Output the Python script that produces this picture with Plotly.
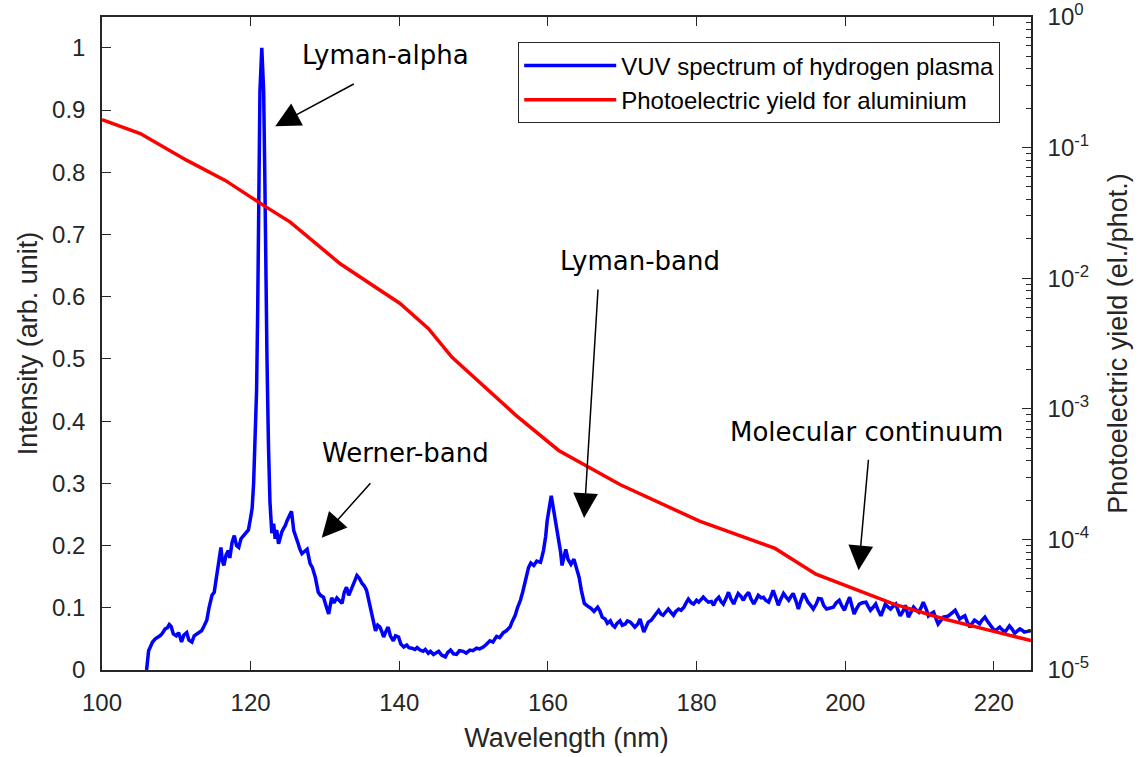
import plotly.graph_objects as go

# ---------------- data ----------------
wl_vuv = [106.0, 106.1, 106.27, 106.5, 106.8, 107.17, 107.5, 107.8, 108.06, 108.5, 108.8, 109.05, 109.3, 109.6,
          110.0, 110.3, 110.5, 110.7, 111.0, 111.4, 111.7, 112.1, 112.4, 112.8, 113.1, 113.4, 113.7, 114.1, 114.4,
          114.8, 115.1, 115.5, 115.8, 116.0, 116.2, 116.4, 116.7, 117.0, 117.2, 117.5, 117.8, 118.1, 118.4, 118.7,
          119.05, 119.4, 119.7, 120.0, 120.2, 120.4, 120.6, 120.8, 120.95, 121.1, 121.25, 121.5, 121.75, 121.9,
          122.05, 122.2, 122.4, 122.6, 122.85, 123.1, 123.3, 123.5, 123.76, 124.0, 124.2, 124.4, 124.65, 124.9,
          125.3, 125.5, 125.8, 126.1, 126.4, 126.6, 126.9, 127.2, 127.6, 128.0, 128.3, 128.7, 129.1, 129.4, 129.8,
          130.1, 130.5, 130.9, 131.2, 131.6, 132.0, 132.3, 132.6, 132.9, 133.2, 133.6, 133.9, 134.3, 134.6, 135.0,
          135.3, 135.6, 136.0, 136.3, 136.6, 136.8, 137.1, 137.4, 137.7, 137.9, 138.2, 138.5, 138.8, 139.2, 139.5,
          139.9, 140.2, 140.6, 141.0, 141.3, 141.7, 142.1, 142.4, 142.8, 143.2, 143.5, 143.9, 144.2, 144.6, 145.0,
          145.3, 145.7, 146.2, 146.5, 146.9, 147.3, 147.7, 148.1, 148.6, 149.0, 149.5, 149.9, 150.4, 150.8, 151.3,
          151.7, 152.2, 152.6, 153.1, 153.5, 154.0, 154.4, 154.9, 155.2, 155.6, 155.9, 156.3, 156.6, 156.9, 157.2,
          157.4, 157.7, 158.1, 158.5, 159.0, 159.2, 159.4, 159.7, 159.9, 160.2, 160.45, 160.7, 161.0, 161.25, 161.5,
          161.7, 161.9, 162.1, 162.4, 162.7, 163.1, 163.5, 163.8, 164.2, 164.5, 164.9, 165.3, 165.8, 166.2, 166.7,
          167.0, 167.3, 167.7, 168.0, 168.4, 168.7, 169.0, 169.3, 169.7, 170.0, 170.4, 170.7, 171.1, 171.4, 171.7,
          172.1, 172.4, 172.9, 173.2, 173.5, 173.9, 174.2, 174.5, 174.9, 175.2, 175.5, 175.9, 176.2, 176.6, 176.9,
          177.2, 177.6, 177.9, 178.3, 178.6, 178.9, 179.3, 179.6, 180.0, 180.3, 180.6, 180.9, 181.3, 181.6, 182.0,
          182.3, 182.6, 183.0, 183.3, 183.6, 184.0, 184.3, 184.6, 185.0, 185.3, 185.6, 186.0, 186.3, 186.6, 187.0,
          187.3, 187.7, 188.0, 188.3, 188.7, 189.0, 189.3, 189.7, 190.0, 190.3, 190.7, 191.0, 191.3, 191.7, 192.0,
          192.4, 192.7, 193.0, 193.4, 193.7, 194.0, 194.4, 194.7, 195.0, 195.4, 195.7, 196.1, 196.4, 196.8, 197.1,
          197.5, 197.9, 198.4, 198.8, 199.2, 199.5, 199.9, 200.2, 200.6, 200.9, 201.2, 201.5, 201.9, 202.3, 202.8,
          203.1, 203.4, 203.7, 204.1, 204.4, 204.8, 205.1, 205.4, 205.8, 206.1, 206.4, 206.8, 207.1, 207.4, 207.8,
          208.1, 208.5, 208.8, 209.2, 209.5, 209.9, 210.2, 210.5, 210.9, 211.2, 211.5, 211.9, 212.2, 212.5, 212.9,
          213.2, 213.6, 213.9, 214.3, 214.8, 215.1, 215.4, 215.8, 216.1, 216.4, 216.8, 217.1, 217.4, 217.8, 218.1,
          218.4, 218.8, 219.1, 219.4, 219.8, 220.1, 220.5, 220.8, 221.1, 221.5, 221.8, 222.1, 222.5, 222.8, 223.1,
          223.5, 223.8, 224.1, 224.5, 224.8, 225.0]

intensity = [0.0, 0.02, 0.031, 0.037, 0.045, 0.050, 0.052, 0.055, 0.058, 0.066, 0.068, 0.073, 0.070, 0.058,
             0.055, 0.060, 0.053, 0.045, 0.056, 0.060, 0.048, 0.045, 0.055, 0.058, 0.061, 0.063, 0.070, 0.080, 0.100,
             0.120, 0.125, 0.158, 0.180, 0.197, 0.175, 0.168, 0.185, 0.192, 0.180, 0.205, 0.216, 0.200, 0.197, 0.211,
             0.216, 0.222, 0.225, 0.245, 0.26, 0.30, 0.36, 0.45, 0.58, 0.78, 0.93, 1.0, 0.93, 0.80,
             0.62, 0.50, 0.36, 0.27, 0.22, 0.235, 0.211, 0.225, 0.203, 0.215, 0.222, 0.227, 0.232, 0.24,
             0.250, 0.255, 0.224, 0.215, 0.203, 0.195, 0.187, 0.190, 0.194, 0.171, 0.165, 0.149, 0.125, 0.120, 0.117,
             0.105, 0.090, 0.116, 0.108, 0.116, 0.110, 0.107, 0.125, 0.133, 0.120, 0.130, 0.140, 0.152, 0.148, 0.139,
             0.135, 0.128, 0.105, 0.090, 0.075, 0.063, 0.072, 0.069, 0.060, 0.053, 0.062, 0.069, 0.055, 0.047, 0.055,
             0.053, 0.042, 0.037, 0.040, 0.036, 0.035, 0.033, 0.036, 0.032, 0.030, 0.033, 0.027, 0.030, 0.025, 0.027,
             0.030, 0.024, 0.021, 0.028, 0.032, 0.026, 0.025, 0.031, 0.030, 0.027, 0.032, 0.031, 0.035, 0.034, 0.037,
             0.041, 0.047, 0.045, 0.054, 0.052, 0.060, 0.063, 0.069, 0.078, 0.088, 0.100, 0.112, 0.125, 0.139, 0.155,
             0.165, 0.172, 0.168, 0.175, 0.173, 0.182, 0.192, 0.215, 0.240, 0.262, 0.28, 0.262, 0.240, 0.222, 0.208,
             0.190, 0.168, 0.180, 0.194, 0.178, 0.170, 0.178, 0.165, 0.149, 0.128, 0.107, 0.103, 0.099, 0.094, 0.101,
             0.095, 0.085, 0.082, 0.075, 0.079, 0.072, 0.069, 0.075, 0.079, 0.072, 0.074, 0.079, 0.077, 0.072, 0.069,
             0.074, 0.082, 0.061, 0.070, 0.077, 0.080, 0.085, 0.088, 0.096, 0.090, 0.088, 0.094, 0.098, 0.092, 0.088,
             0.094, 0.098, 0.096, 0.101, 0.108, 0.114, 0.108, 0.106, 0.112, 0.109, 0.113, 0.117, 0.112, 0.109, 0.110,
             0.104, 0.112, 0.117, 0.110, 0.106, 0.116, 0.125, 0.115, 0.106, 0.115, 0.123, 0.118, 0.112, 0.119, 0.125,
             0.115, 0.106, 0.113, 0.120, 0.116, 0.117, 0.112, 0.109, 0.118, 0.128, 0.115, 0.104, 0.113, 0.123, 0.118,
             0.112, 0.118, 0.123, 0.110, 0.098, 0.110, 0.123, 0.116, 0.109, 0.103, 0.098, 0.106, 0.115, 0.114, 0.104,
             0.098, 0.100, 0.101, 0.108, 0.112, 0.104, 0.096, 0.106, 0.117, 0.103, 0.090, 0.098, 0.106, 0.108, 0.109,
             0.102, 0.096, 0.100, 0.106, 0.097, 0.087, 0.096, 0.106, 0.101, 0.098, 0.102, 0.106, 0.096, 0.087, 0.095,
             0.104, 0.085, 0.093, 0.101, 0.097, 0.093, 0.100, 0.109, 0.098, 0.087, 0.090, 0.093, 0.083, 0.074, 0.080,
             0.085, 0.086, 0.087, 0.091, 0.096, 0.089, 0.082, 0.085, 0.087, 0.078, 0.069, 0.075, 0.080, 0.077, 0.074,
             0.080, 0.085, 0.079, 0.074, 0.068, 0.063, 0.066, 0.069, 0.065, 0.061, 0.066, 0.071, 0.065, 0.059, 0.062,
             0.066, 0.064, 0.061, 0.062, 0.063, 0.062]

wl_yield = [100.0, 105.15, 111.43, 116.58, 121.73, 125.33, 132.05, 140.1, 143.9, 147.1, 155.7, 161.45,
            169.75, 180.4, 190.56, 196.07, 206.47, 213.2, 220.4, 225.0]
pe_yield = [0.1637, 0.128, 0.0798, 0.0561, 0.0361, 0.0269, 0.0129, 0.00641, 0.00413, 0.00248, 0.000891,
            0.000480, 0.000262, 0.000138, 8.53e-5, 5.41e-5, 3.21e-5, 2.47e-5, 1.95e-5, 1.68e-5]

left_ticks = [0, 0.1, 0.2, 0.3, 0.4, 0.5, 0.6, 0.7, 0.8, 0.9, 1]
left_labels = ["0", "0.1", "0.2", "0.3", "0.4", "0.5", "0.6", "0.7", "0.8", "0.9", "1"]
x_ticks = [100, 120, 140, 160, 180, 200, 220]
right_ticks = [1e-5, 1e-4, 1e-3, 1e-2, 1e-1, 1e0]
right_labels = ["10<sup>-5</sup>", "10<sup>-4</sup>", "10<sup>-3</sup>", "10<sup>-2</sup>",
                "10<sup>-1</sup>", "10<sup>0</sup>"]
right_minor = [k * 10.0 ** e for e in range(-5, 0) for k in range(2, 10)]

# annotations: (text, text_x, text_y, tip_x, tip_y, ax, ay)
labels = [
    ("Lyman-alpha", 138.2, 0.988, 123.31, 0.874, 80, -43),
    ("Werner-band", 140.8, 0.348, 129.57, 0.2126, 50, -56),
    ("Lyman-band", 172.4, 0.657, 164.87, 0.2444, 14, -230),
    ("Molecular continuum", 202.9, 0.382, 201.8, 0.1604, 10, -112),
]

AX = "#262626"
FONT = "Liberation Sans, Arial, Helvetica, sans-serif"

fig = go.Figure()
fig.add_trace(go.Scatter(x=wl_vuv, y=intensity, mode="lines", name="VUV spectrum of hydrogen plasma",
                         line=dict(color="#0000ff", width=3.5), yaxis="y"))
fig.add_trace(go.Scatter(x=wl_yield, y=pe_yield, mode="lines", name="Photoelectric yield for aluminium",
                         line=dict(color="#ff0000", width=3.5), yaxis="y2"))

ann = []
for text, tx, ty, px, py, ax, ay in labels:
    ann.append(dict(x=tx, y=ty, xref="x", yref="y", text=text, showarrow=False,
                    font=dict(family="DejaVu Sans", size=26, color="black"),
                    xanchor="center", yanchor="middle"))
    ann.append(dict(x=px, y=py, xref="x", yref="y", text="", showarrow=True, ax=ax, ay=ay,
                    arrowhead=2, arrowsize=3.3, arrowwidth=1.5, arrowcolor="black", standoff=0))

fig.update_layout(
    width=1140, height=757,
    margin=dict(l=102, r=109, t=17, b=87, pad=0, autoexpand=False),
    paper_bgcolor="white", plot_bgcolor="white",
    font=dict(family=FONT, size=24, color=AX),
    showlegend=True,
    legend=dict(x=0.448, y=0.961, xanchor="left", yanchor="top", bgcolor="white",
                bordercolor=AX, borderwidth=1, font=dict(size=24, color="black"),
                itemwidth=92, tracegroupgap=0),
    xaxis=dict(range=[100, 225], tickvals=x_ticks, ticks="inside", ticklen=9, tickwidth=1.2,
               tickcolor=AX, showline=True, linecolor=AX, linewidth=1.5, mirror="ticks",
               showgrid=False, zeroline=False, ticklabelstandoff=10, automargin=False,
               title=dict(text="Wavelength (nm)", font=dict(size=27, color=AX), standoff=14)),
    yaxis=dict(range=[0, 1.0495], tickvals=left_ticks, ticktext=left_labels, ticks="inside", ticklen=9,
               tickwidth=1.2, tickcolor=AX, showline=True, linecolor=AX, linewidth=1.5,
               showgrid=False, zeroline=False, ticklabelstandoff=10, automargin=False,
               title=dict(text="Intensity (arb. unit)", font=dict(size=27, color=AX), standoff=7)),
    yaxis2=dict(type="log", range=[-5, 0], overlaying="y", side="right", tickvals=right_ticks,
                ticktext=right_labels, ticks="inside", ticklen=9, tickwidth=1.2, tickcolor=AX,
                showline=True, linecolor=AX, linewidth=1.5, showgrid=False, zeroline=False,
                ticklabelstandoff=10, automargin=False,
                minor=dict(tickvals=right_minor, ticks="inside", ticklen=5, tickwidth=1, tickcolor=AX),
                title=dict(text="Photoelectric yield (el./phot.)", font=dict(size=27, color=AX), standoff=20)),
    annotations=ann,
)

fig.write_html("out.html")
